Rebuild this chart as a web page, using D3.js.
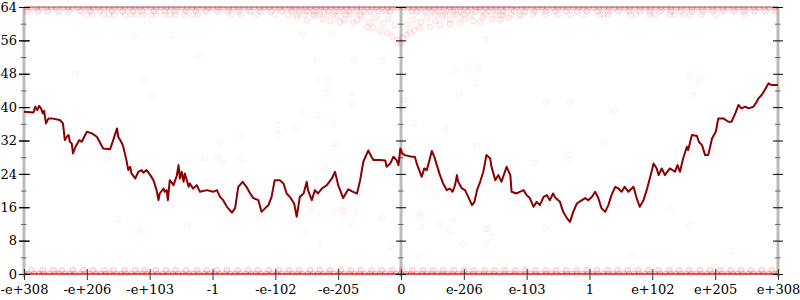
<!DOCTYPE html>
<html>
<head>
<meta charset="utf-8">
<script src="https://cdn.jsdelivr.net/npm/d3@7"></script>
<style>
  body { margin: 0; background: #fff; }
  text { font-family: "DejaVu Serif", serif; }
</style>
</head>
<body>
<script>
// #region DATA
var xLabels = ["-e+308", "-e+206", "-e+103", "-1", "-e-102", "-e-205", "0",
    "e-206", "e-103", "1", "e+102", "e+205", "e+308"];
var yMajor = [0, 8, 16, 24, 32, 40, 48, 56, 64];
var yMinor = [4, 12, 20, 28, 36, 44, 52, 60];

// running line (x in tick-index units, value in bits)
var lineT = [0.00,0.15,0.18,0.21,0.24,0.27,0.30,0.32,0.35,0.39,0.44,0.57,0.62,0.65,0.68,0.71,0.73,0.76,0.78,0.82,
    0.85,0.88,0.92,1.00,1.08,1.16,1.26,1.37,1.42,1.48,1.50,1.53,1.56,1.58,1.63,1.66,1.69,1.71,1.77,1.82,
    1.87,1.90,1.95,2.01,2.06,2.11,2.14,2.16,2.22,2.24,2.27,2.29,2.32,2.38,2.43,2.46,2.48,2.51,2.54,2.56,
    2.62,2.64,2.69,2.75,2.80,2.91,3.01,3.07,3.12,3.17,3.23,3.31,3.36,3.41,3.48,3.54,3.60,3.65,3.73,3.78,
    3.84,3.89,3.94,3.99,4.07,4.13,4.18,4.23,4.30,4.34,4.39,4.45,4.50,4.52,4.58,4.63,4.68,4.74,4.82,4.90,
    4.95,5.00,5.08,5.16,5.24,5.30,5.35,5.40,5.48,5.53,5.56,5.67,5.75,5.77,5.83,5.88,5.93,5.96,5.99,6.02,
    6.06,6.17,6.22,6.25,6.30,6.33,6.37,6.41,6.46,6.49,6.54,6.57,6.62,6.67,6.73,6.78,6.82,6.86,6.89,6.91,
    6.97,7.02,7.07,7.13,7.17,7.21,7.26,7.31,7.36,7.42,7.44,7.50,7.55,7.60,7.68,7.74,7.76,7.84,7.89,7.95,
    8.00,8.05,8.11,8.16,8.21,8.27,8.32,8.37,8.42,8.46,8.53,8.58,8.64,8.69,8.74,8.80,8.88,8.93,8.98,9.04,
    9.09,9.14,9.19,9.25,9.30,9.35,9.41,9.46,9.51,9.56,9.62,9.70,9.75,9.80,9.86,9.91,9.96,10.02,10.07,10.10,
    10.15,10.20,10.28,10.36,10.40,10.44,10.49,10.55,10.57,10.63,10.71,10.74,10.79,10.84,10.89,10.95,11.01,11.05,11.13,11.21,
    11.26,11.32,11.37,11.42,11.48,11.53,11.61,11.66,11.69,11.74,11.79,11.85,11.90,12.00];
var lineV = [38.9,38.7,40.1,39.3,40.3,39.7,38.5,39.1,36.1,37.3,37.3,36.9,36.1,32.1,32.9,33.3,31.7,31.3,28.9,30.5,
    31.3,32.1,31.7,34.1,33.7,32.9,30.1,29.9,32.1,34.9,32.9,32.1,31.3,30.5,27.3,24.9,25.7,24.1,22.9,24.5,
    24.9,24.3,24.9,23.7,22.5,20.1,17.7,19.3,20.5,19.7,20.1,17.7,22.5,21.3,23.5,26.1,22.9,24.5,22.1,24.1,
    20.9,21.7,20.5,21.3,19.7,20.1,19.7,20.1,18.5,17.7,16.1,14.7,15.8,20.9,22.1,20.9,19.3,18.2,17.7,14.9,
    15.8,16.5,18.5,22.5,22.5,21.7,19.3,18.5,16.9,13.7,18.5,19.3,22.1,20.1,17.7,20.1,19.3,20.5,21.3,22.9,
    24.5,21.3,18.2,20.3,19.7,19.3,22.5,26.9,29.6,28.1,27.3,27.3,27.2,25.7,26.5,28.1,27.3,26.1,30.1,28.9,
    28.5,28.1,28.1,26.5,24.5,23.3,25.3,24.9,27.7,29.5,27.7,26.1,23.7,21.7,20.1,20.5,19.7,21.3,23.7,22.1,
    20.5,20.1,18.5,16.5,17.3,20.1,22.1,24.5,28.5,27.7,25.7,22.5,23.7,22.1,25.7,23.7,19.7,19.3,19.7,20.1,
    18.9,18.2,16.1,17.3,16.5,18.5,18.9,17.7,19.3,18.2,17.3,14.9,13.4,12.5,14.9,16.9,17.7,18.2,17.7,18.5,
    19.7,18.2,15.8,14.9,16.5,18.9,20.9,20.5,19.7,20.9,19.7,20.9,18.2,16.1,17.7,20.1,22.9,26.5,25.3,23.7,
    25.3,23.7,25.3,24.5,26.1,24.5,27.7,30.5,29.7,33.3,33.1,31.7,30.9,28.5,28.5,32.5,34.1,37.3,37.3,36.5,
    36.5,38.5,40.5,39.7,40.1,39.7,40.1,41.3,42.1,42.9,44.1,45.7,45.3,45.3];

// faint samples: rows hugging the top and bottom of the range
var row64 = [0.03,0.11,0.2,0.27,0.36,0.44,0.51,0.62,0.7,0.77,0.86,0.95,1.03,1.1,1.19,1.28,1.35,1.44,1.52,1.6,
    1.69,1.77,1.84,1.93,2.02,2.1,2.18,2.27,2.34,2.43,2.51,2.6,2.68,2.75,2.85,2.93,3.0,3.09,3.17,3.26,
    3.33,3.42,3.5,3.58,3.66,3.75,3.83,3.9,3.99,4.07,4.15,4.24,4.31,4.4,4.48,4.56,4.64,4.73,4.8,4.88,
    4.97,5.05,5.13,5.21,5.3,5.37,5.46,5.54,5.62,5.7,5.79,5.86,5.95,6.04,6.12,6.2,6.28,6.37,6.45,6.52,
    6.61,6.69,6.78,6.85,6.94,7.02,7.1,7.19,7.26,7.35,7.43,7.51,7.6,7.67,7.76,7.84,7.92,8.0,8.09,8.17,
    8.25,8.33,8.42,8.5,8.57,8.66,8.74,8.83,8.9,8.98,9.07,9.15,9.23,9.31,9.4,9.48,9.56,9.64,9.72,9.81,
    9.89,9.97,10.05,10.14,10.22,10.3,10.38,10.46,10.55,10.63,10.71,10.79,10.88,10.96,11.04,11.12,11.2,11.29,11.37,11.45,
    11.53,11.62,11.7,11.78,11.86,11.95];
var row63 = [0.05,0.22,0.38,0.55,0.71,0.9,1.06,1.21,1.4,1.57,1.73,1.88,2.07,2.24,2.4,2.58,2.74,2.9,3.08,3.25,
    3.41,3.6,3.76,3.93,4.1,4.26,4.38,4.5,4.61,4.72,4.84,4.95,5.07,5.18,5.3,5.41,5.52,5.64,5.75,5.83,
    6.17,6.26,6.38,6.49,6.6,6.72,6.83,6.95,7.06,7.18,7.29,7.4,7.52,7.63,7.8,7.97,8.13,8.3,8.46,8.63,
    8.8,8.96,9.13,9.3,9.46,9.63,9.8,9.96,10.13,10.3,10.46,10.63,10.8,10.96,11.13,11.3,11.46,11.63,11.8,11.96];
var row62 = [1.0,1.09,1.27,1.35,1.44,1.61,1.7,1.8,1.9,2.02,2.1,2.25,2.33,2.41,2.55,2.69,2.77,3.3,3.45,3.7,
    4.0,4.2,4.35,4.47,4.6,4.7,4.82,4.93,5.12,5.35,6.55,6.7,6.85,7.0,7.12,7.35,7.5,7.62,7.75,7.9,
    8.1,8.3,8.5,8.7,8.9,9.17,9.22,9.29,9.66,9.74,9.96,10.04,10.28,10.36,10.5,10.6,10.78,11.02,11.47];
var row1 = [0.12,0.3,0.47,0.6,0.78,0.95,1.1,1.28,1.42,1.6,1.77,1.92,2.1,2.26,2.41,2.58,2.75,2.91,3.07,3.23,
    3.4,3.57,3.72,3.9,4.05,4.22,4.38,4.55,4.71,4.87,5.04,5.2,5.36,5.53,5.69,5.86,6.02,6.18,6.35,6.51,
    6.67,6.84,7.0,7.16,7.33,7.49,7.65,7.82,7.98,8.14,8.31,8.47,8.63,8.8,8.96,9.12,9.29,9.45,9.61,9.78,
    9.94,10.1,10.27,10.43,10.59,10.76,10.92,11.08,11.25,11.41,11.57,11.74,11.9];
var row0 = [0.0,0.07,0.16,0.24,0.31,0.4,0.49,0.56,0.65,0.73,0.8,0.9,0.97,1.05,1.14,1.22,1.3,1.38,1.47,1.55,
    1.62,1.71,1.8,1.88,1.95,2.04,2.12,2.21,2.29,2.37,2.45,2.53,2.62,2.7,2.78,2.87,2.95,3.03,3.11,3.2,
    3.28,3.36,3.44,3.53,3.61,3.69,3.77,3.86,3.94,4.02,4.1,4.19,4.27,4.35,4.43,4.52,4.6,4.68,4.76,4.85,
    4.93,5.01,5.09,5.18,5.26,5.34,5.42,5.51,5.59,5.67,5.75,5.84,5.92,6.0,6.08,6.16,6.25,6.33,6.41,6.49,
    6.58,6.66,6.74,6.82,6.91,6.99,7.07,7.15,7.24,7.32,7.4,7.48,7.57,7.65,7.73,7.81,7.9,7.98,8.06,8.14,
    8.23,8.31,8.39,8.47,8.56,8.64,8.72,8.8,8.89,8.97,9.05,9.13,9.22,9.3,9.38,9.46,9.55,9.63,9.71,9.79,
    9.88,9.96,10.04,10.12,10.21,10.29,10.37,10.45,10.54,10.62,10.7,10.78,10.87,10.95,11.03,11.11,11.2,11.28,11.36,11.44,
    11.53,11.61,11.69,11.77,11.86,11.94,12.0];

// the dip of the top band around zero
var funnel = [[5.03,60.4],[5.24,60.2],[5.46,59.2],[5.55,59.0],[5.67,58.2],[5.78,57.8],[5.86,57.0],[5.94,56.1],
    [6.0,55.4],[6.03,56.6],[6.09,57.3],[6.14,58.0],[6.21,58.5],[6.30,59.0],[6.46,59.2],[6.62,59.7],
    [6.78,59.9],[6.94,60.2],[7.26,60.4],[7.58,60.9]];
var centreBand = [[4.35,61.5],[4.5,60.8],[4.62,62.0],[4.75,61.2],[4.88,60.6],[4.98,61.8],[5.1,61.0],[5.18,62.3],
    [5.3,60.9],[5.38,61.7],[5.5,60.3],[5.6,61.4],[5.72,60.0],[5.8,61.2],[5.9,59.6],[6.1,59.8],
    [6.2,61.0],[6.32,60.4],[6.42,61.5],[6.55,60.6],[6.66,61.8],[6.78,61.0],[6.9,62.0],[7.02,61.2],
    [7.15,60.7],[7.3,61.6],[7.45,61.1],[7.6,62.0],[7.72,61.4],[7.9,61.9]];

// stray samples
var strays = [[1.77,57.0],[2.36,57.3],[1.96,60.2],[0.81,47.9],[1.91,46.5],[2.04,42.9],[2.79,52.5],[4.44,57.5],
    [4.90,57.5],[4.66,51.3],[5.25,51.3],[4.66,46.5],[4.84,46.5],[5.70,51.1],[6.86,48.9],[7.23,49.4],
    [7.34,56.3],[7.07,49.4],[7.21,45.8],[10.60,47.5],[10.74,46.3],[10.65,42.7],[1.32,27.6],[4.81,43.4],
    [5.22,43.4],[5.24,40.7],[4.42,38.8],[4.68,38.1],[4.03,35.7],[4.04,33.6],[4.31,34.8],[4.92,36.2],
    [4.97,31.4],[4.92,30.2],[3.12,31.4],[3.47,33.1],[2.88,27.8],[3.09,27.8],[3.17,26.6],[3.45,27.6],
    [4.84,25.4],[5.06,15.3],[5.11,13.9],[3.74,13.4],[6.06,41.7],[6.92,43.1],[8.31,41.2],[8.69,41.2],
    [6.03,39.3],[6.21,36.2],[6.70,34.8],[7.21,30.7],[8.64,28.5],[8.69,27.3],[8.13,26.6],[6.53,24.4],
    [6.43,21.6],[6.78,17.7],[6.56,18.7],[6.06,15.3],[6.32,11.3],[7.39,11.0],[8.29,11.0],[9.39,39.1],
    [9.22,31.2],[10.28,15.6],[1.50,13.2],[1.85,10.5],[2.59,11.5],[4.57,15.1],[4.73,14.1],[4.92,14.9],
    [5.09,15.1],[5.27,14.9],[4.49,10.1],[4.71,7.2],[5.70,13.4],[5.84,6.7],[6.30,14.6],[6.33,13.7],
    [6.62,11.7],[6.76,10.5],[6.83,12.9],[6.99,7.2],[7.34,10.8],[7.37,7.4],[7.46,8.9],[6.27,4.3],
    [5.24,11.7],[10.58,11.5],[11.27,5.5],[9.68,4.3],[9.69,1.7]];
// #endregion

// #region SETUP
var width = 800, height = 300;

var svg = d3.select("body")
    .append("svg")
    .attr("width", width)
    .attr("height", height);

var x = d3.scaleLinear().domain([0, 12]).range([24, 778]);
var y = d3.scaleLinear().domain([0, 64]).range([274, 7]);

svg.append("clipPath")
    .attr("id", "plot-clip")
    .append("rect")
        .attr("x", x(0))
        .attr("y", y(64))
        .attr("width", x(12) - x(0))
        .attr("height", y(0) - y(64));
// #endregion

// #region FRAME
// thick grey vertical axes at both ends and at zero
svg.append("g")
    .selectAll("line")
    .data([0, 6, 12])
    .enter()
    .append("line")
        .attr("x1", d => x(d))
        .attr("x2", d => x(d))
        .attr("y1", y(64))
        .attr("y2", y(0) + 3)
        .attr("stroke", "#bbb")
        .attr("stroke-width", 3);

// top and bottom edges, where the samples pile up
svg.append("line")
    .attr("x1", x(0)).attr("x2", x(12))
    .attr("y1", y(64)).attr("y2", y(64))
    .attr("stroke", "#b88")
    .attr("stroke-width", 1.5);
svg.append("line")
    .attr("x1", x(0)).attr("x2", x(12))
    .attr("y1", y(0)).attr("y2", y(0))
    .attr("stroke", "#e05555")
    .attr("stroke-width", 2);
// #endregion

// #region POINTS
// each group: [points, stroke opacity, fill opacity]
var groups = [
    [strays, 0.045, 0.015],
    [centreBand, 0.1, 0.04],
    [funnel, 0.1, 0.04],
    [row62.map(t => [t, 62.2]), 0.1, 0.03],
    [row63.map(t => [t, 63]), 0.14, 0.06],
    [row1.map(t => [t, 0.9]), 0.16, 0.08],
    [row64.map(t => [t, 64]), 0.25, 0.12],
    [row0.map(t => [t, 0]), 0.25, 0.12]
];

var pointLayer = svg.append("g")
    .attr("clip-path", "url(#plot-clip)");

groups.forEach(function(grp) {
    pointLayer.append("g")
        .selectAll("circle")
        .data(grp[0])
        .enter()
        .append("circle")
            .attr("cx", d => x(d[0]))
            .attr("cy", d => y(d[1]))
            .attr("r", 3)
            .attr("fill", "red")
            .attr("fill-opacity", grp[2])
            .attr("stroke", "red")
            .attr("stroke-opacity", grp[1]);
});
// #endregion

// #region AXES
// left axis with labels
var leftAxis = svg.append("g")
    .attr("transform", "translate(" + x(0) + ",0)")
    .call(d3.axisLeft(y).tickValues(yMajor).tickSizeInner(5).tickSizeOuter(0).tickPadding(2));
leftAxis.select(".domain").remove();
leftAxis.selectAll("line").attr("x1", 6).attr("stroke", "#000");
leftAxis.selectAll("text")
    .attr("font-family", "'DejaVu Serif', serif")
    .attr("font-size", "13px")
    .attr("fill", "#000");

// tick marks on all three vertical axes
[0, 6, 12].forEach(function(pos) {
    var g = svg.append("g").attr("transform", "translate(" + x(pos) + ",0)");

    var major = g.append("g")
        .call(d3.axisRight(y).tickValues(yMajor).tickSizeInner(5).tickSizeOuter(0).tickFormat(""));
    major.select(".domain").remove();
    major.selectAll("line").attr("x1", -5).attr("stroke", "#000");

    var minor = g.append("g")
        .call(d3.axisRight(y).tickValues(yMinor).tickSizeInner(2.5).tickSizeOuter(0).tickFormat(""));
    minor.select(".domain").remove();
    minor.selectAll("line").attr("x1", -3).attr("stroke", "#666");
});

// bottom axis
var bottomAxis = svg.append("g")
    .attr("transform", "translate(0," + y(0) + ")")
    .call(d3.axisBottom(x)
        .tickValues(d3.range(xLabels.length))
        .tickFormat(i => xLabels[i])
        .tickSizeInner(6)
        .tickSizeOuter(0)
        .tickPadding(5));
bottomAxis.select(".domain").remove();
bottomAxis.selectAll("line").attr("y1", -5).attr("stroke", "#333");
bottomAxis.selectAll("text")
    .attr("font-family", "'DejaVu Serif', serif")
    .attr("font-size", "13px")
    .attr("fill", "#000");
// #endregion

// #region LINE
var lineData = lineT.map((t, i) => [t, lineV[i]]);

svg.append("path")
    .datum(lineData)
    .attr("fill", "none")
    .attr("stroke", "#8b0000")
    .attr("stroke-width", 2)
    .attr("stroke-linejoin", "round")
    .attr("d", d3.line().x(d => x(d[0])).y(d => y(d[1])));
// #endregion
</script>
</body>
</html>
